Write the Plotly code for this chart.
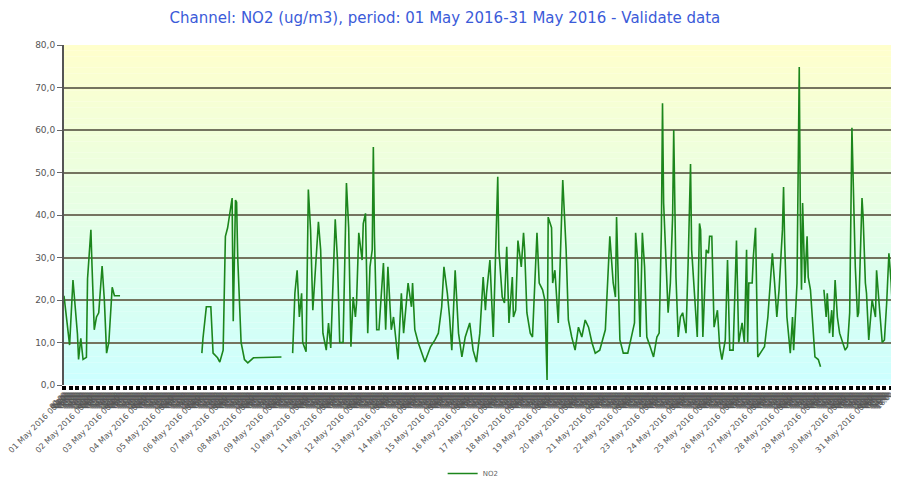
import plotly.graph_objects as go
import pandas as pd

TITLE = "Channel: NO2 (ug/m3), period: 01 May 2016-31 May 2016 - Validate data"
START = "2016-05-01 00:00"
N_DAYS = 31

# hours since 01 May 2016 00:00 (None value = gap in record)
HOURS = [
    0, 5, 8, 12, 13, 15, 17, 20, 21, 24, 25, 27, 29, 31, 34, 36, 38, 40, 43, 45, 50, 51,
    123, 124, 127, 131, 133, 137, 139, 142, 144, 146, 150, 151, 153, 154, 155, 158, 161, 164, 169, 194, 196,
    204, 206, 208, 210, 212, 213, 216, 218, 220, 222,
    225, 227, 229, 231, 234, 236, 238, 240, 242, 244,
    246, 249, 252, 254, 256, 258, 260, 261, 263, 266,
    267, 269, 270, 271, 273, 275, 276, 277, 279, 281,
    285, 287, 289, 292, 294, 298, 301, 303, 307, 310,
    311, 313, 316, 322, 327, 331, 334, 337, 339, 342,
    344, 346, 349, 352, 355, 358, 362, 365, 368, 371,
    374, 376, 377, 380, 383, 385, 387, 388, 391, 393,
    395, 397, 400, 401, 403, 405, 408, 410, 411, 413,
    416, 418, 419, 422, 424, 427, 429, 431, 432, 435,
    436, 438, 441, 445, 448, 450, 453, 456, 459, 462,
    465, 468, 471, 474, 478, 483, 485, 487, 490, 492,
    493, 495, 496, 499, 503, 507, 509, 510, 512, 514,
    516, 518, 520, 523, 526, 529, 531, 533, 534, 535,
    537, 539, 541, 543, 544, 545, 546, 548, 550, 552,
    555, 557, 559, 560, 562, 565, 567, 568, 570, 573,
    575, 576, 578, 580, 583, 585, 587, 590, 592, 594,
    597, 600, 602, 605, 607, 609, 610, 611, 614, 615,
    617, 618, 619, 623, 625, 628, 632, 634, 636, 638,
    641, 642, 643, 645, 648, 650, 651, 654, 656, 657,
    658, 659, 661, 663, 664, 666, 668, 670, 673, 675, 676,
    678, 680, 681, 683, 685, 686, 688, 690, 692, 695,
    697, 699, 701, 703, 704, 706, 708, 709, 712, 713,
    715, 716, 718, 721, 724, 725, 727, 730, 732, 734,
    736, 738, 740, 742, 743,
]

NO2 = [
    21, 9.4, 24.7, 12, 6, 11, 6, 6.5, 25, 36.5, 28, 13, 16, 17, 28, 20, 7.5, 10, 23, 21, 21, None,
    7.5, 11, 18.4, 18.4, 7.5, 6.4, 5.4, 8.2, 35, 37, 44, 15, 43.5, 43, 30, 10, 6, 5.2, 6.4, 6.6, None,
    7.5, 21.6, 27, 16, 21.6, 10, 7.8, 46, 36.5, 17.6,
    30, 38.4, 31.8, 12.2, 8.2, 14.6, 8.7, 22.4, 39, 29.4,
    10, 10, 47.5, 37, 9, 20.7, 16, 19.3, 35.8, 29.4,
    38, 40.4, 25.4, 12.2, 27.8, 31.8, 56, 34.8, 13, 13,
    28.7, 13, 27.8, 13, 16, 6, 21.6, 12.2, 24, 18.4,
    24, 13, 10, 5.4, 9, 10.6, 12.2, 18.4, 27.8, 21.6,
    16, 8.2, 27, 12.2, 6.6, 11.3, 14.6, 8.2, 5.4, 12.2,
    25.4, 17.6, 21.6, 29.4, 11.3, 29.4, 49, 31.8, 20.7, 19.3,
    32.5, 14.6, 25.4, 16, 17.6, 34, 27.8, 35.8, 31.8, 17,
    12.2, 11.3, 17, 35.8, 24, 22.4, 20, 1.2, 39.5, 37,
    24, 27, 14.6, 48.2, 31.8, 15.3, 11.3, 8.2, 13.6, 11.3,
    15.3, 13.6, 10, 7.5, 8.2, 13, 24, 35, 24, 20.7,
    39.5, 20.7, 10.6, 7.5, 7.5, 12.2, 14.6, 35.8, 28.7, 11.3,
    35.8, 27.8, 11.3, 9, 6.6, 11.3, 12.2, 36.5, 66.3, 42.8,
    27.8, 17, 24, 39.5, 60, 39.5, 25.4, 11.3, 16, 17,
    12.2, 30, 52, 31.8, 23, 11.3, 38, 36.5, 11.3, 31.8,
    31, 35, 35, 13.6, 17.6, 9, 6, 10.6, 29.4, 8.2,
    8.2, 34, 10, 14.6, 10, 31.8, 10, 24, 24, 30,
    37, 16, 6.6, 8.2, 9, 16, 31, 24, 16, 22.4,
    36.5, 46.6, 33.4, 16, 7.5, 16, 8.2, 24, 74.8, 39.5,
    22.4, 42.8, 24, 35, 25.4, 22.4, 13.6, 6.6, 6, 4.3, None,
    22.4, 16, 21.6, 12.2, 17.6, 11.3, 24.7, 16, 12.2, 10,
    8.2, 9, 17, 60.5, 47.5, 27.8, 16, 17, 44, 39.5,
    24, 21.6, 10.6, 20, 16, 27, 20, 10, 10.6, 19.3,
    31, 24, 13, 12.2, 12,
]

Y_MIN, Y_MAX, Y_STEP = 0, 80, 10
X_END_HOURS = 745

start = pd.Timestamp(START)
times = [start + pd.Timedelta(hours=h) for h in HOURS]
x_end = start + pd.Timedelta(hours=X_END_HOURS)
day_ticks = [start + pd.Timedelta(days=d) for d in range(N_DAYS)]
hourly_ticks = [start + pd.Timedelta(hours=h) for h in range(0, X_END_HOURS - 6)]

fig = go.Figure()
fig.add_trace(go.Scatter(
    x=times, y=NO2, mode="lines", name="NO2",
    line=dict(color="#1c861c", width=1.6),
    connectgaps=False,
))
# empty helper trace so the overlaid hourly axis is rendered
fig.add_trace(go.Scatter(x=[start, x_end], y=[None, None], xaxis="x2",
                         showlegend=False, hoverinfo="skip"))

# vertical yellow -> cyan background gradient
n = 60
top = (255, 255, 204)
bot = (204, 255, 255)
shapes = []
for i in range(n):
    t = (i + 0.5) / n
    c = tuple(round(bot[k] + (top[k] - bot[k]) * t) for k in range(3))
    shapes.append(dict(
        type="rect", xref="paper", yref="y", layer="below",
        x0=0, x1=1, y0=Y_MIN + (Y_MAX - Y_MIN) * i / n, y1=Y_MIN + (Y_MAX - Y_MIN) * (i + 1) / n,
        fillcolor="rgb(%d,%d,%d)" % c, line=dict(width=0),
    ))

fig.update_layout(
    width=899, height=480,
    margin=dict(l=56, r=8, t=37, b=103, autoexpand=False),
    paper_bgcolor="white", plot_bgcolor="white",
    separators=",.",
    shapes=shapes,
    font=dict(family="DejaVu Sans", size=9, color="#444"),
    title=dict(text=TITLE, x=0.486, xanchor="center", y=0.979, yanchor="middle",
               font=dict(family="DejaVu Sans", size=15, color="#3b5bd9")),
    showlegend=True,
    legend=dict(orientation="h", x=0.49, xanchor="center", yref="container", y=0.0, yanchor="bottom",
                font=dict(size=7, color="#666"), bgcolor="rgba(0,0,0,0)"),
    xaxis=dict(
        type="date", range=[start, x_end], automargin=False,
        tickmode="array", tickvals=day_ticks,
        tickformat="%d %b %Y %H:%M", tickangle=-45, ticklabeloverflow="allow",
        tickfont=dict(size=8, color="#555"),
        ticks="outside", ticklen=4, tickwidth=4, tickcolor="black",
        minor=dict(dtick=6 * 3600 * 1000, tick0=start, ticks="outside", ticklen=4, tickwidth=4, tickcolor="black"),
        showgrid=False, zeroline=False, showline=False,
    ),
    xaxis2=dict(
        type="date", range=[start, x_end], overlaying="x", anchor="y", side="bottom",
        automargin=False,
        tickmode="array", tickvals=hourly_ticks,
        tickformat="%H:%M", tickangle=-45, ticklabelstandoff=3,
        tickfont=dict(size=7, color="#555"),
        ticks="", showgrid=False, zeroline=False, showline=False,
    ),
    yaxis=dict(
        range=[Y_MIN, Y_MAX], tickmode="linear", tick0=0, dtick=Y_STEP, automargin=False,
        tickformat=".1f", tickfont=dict(size=9, color="#555"),
        ticks="outside", ticklen=5, tickcolor="#666",
        showgrid=True, gridcolor="#74745f", gridwidth=1.6,
        zeroline=False, showline=True, linecolor="#555", linewidth=2,
    ),
)

fig.write_html("out.html")
